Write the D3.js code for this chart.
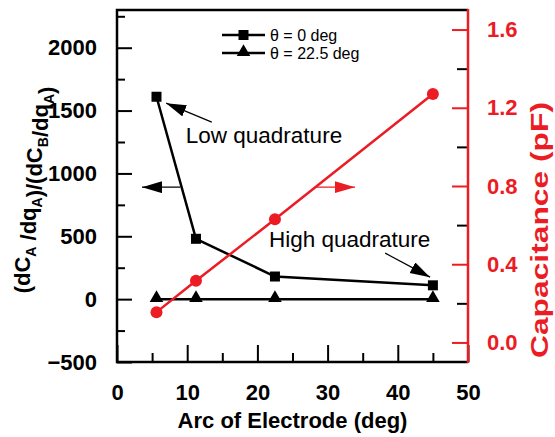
<!DOCTYPE html>
<html>
<head>
<meta charset="utf-8">
<script src="https://cdn.jsdelivr.net/npm/d3@7"></script>
<style>
  body { margin: 0; background: #fff; }
  svg { font-family: "Liberation Sans", Arial, sans-serif; }
  .tick text { font-weight: bold; font-size: 22px; }
</style>
</head>
<body>
<svg id="chart" width="555" height="437"></svg>
<script>
// Dual axis chart: ratio (left, black) and capacitance (right, red) vs electrode arc
var arcDeg = [5.625, 11.25, 22.5, 45];
var ratioTheta0 = [1610, 480, 180, 110];
var ratioTheta225 = [0, 0, 0, 0];
var capacitance = [0.155, 0.315, 0.63, 1.27];

var xTicks = [0, 10, 20, 30, 40, 50];
var xMinor = [5, 15, 25, 35, 45];
var leftTicks = [-500, 0, 500, 1000, 1500, 2000];
var leftMinor = [-250, 250, 750, 1250, 1750, 2250];
var rightTicks = [0.0, 0.4, 0.8, 1.2, 1.6];
var rightMinor = [0.2, 0.6, 1.0, 1.4];

var legendLabels = ["\u03b8 = 0 deg", "\u03b8 = 22.5 deg"];

var RED = "#ec1c24";
var margin = {top: 10, right: 87, bottom: 75, left: 117};
var width = 555 - margin.left - margin.right;
var height = 437 - margin.top - margin.bottom;

var svg = d3.select("#chart")
  .append("g")
    .attr("transform", "translate(" + margin.left + "," + margin.top + ")");

var x = d3.scaleLinear().domain([0, 50]).range([0, width]);
var yL = d3.scaleLinear().domain([-500, 2300]).range([height, 0]);
var yR = d3.scaleLinear().domain([-0.1, 1.7]).range([height, 0]);

// arrowheads
var defs = svg.append("defs");
[["headBlack", "#000"], ["headRed", RED]].forEach(function(m) {
  defs.append("marker")
      .attr("id", m[0])
      .attr("markerUnits", "userSpaceOnUse")
      .attr("markerWidth", 22)
      .attr("markerHeight", 14)
      .attr("refX", 20)
      .attr("refY", 6)
      .attr("orient", "auto")
    .append("path")
      .attr("d", "M0,0L20,6L0,12Z")
      .attr("fill", m[1]);
});

// minor ticks
svg.append("g")
    .call(d3.axisLeft(yL).tickValues(leftMinor).tickSize(-8).tickFormat(""))
    .call(function(g) { g.select(".domain").remove(); });
svg.append("g")
    .attr("transform", "translate(0," + height + ")")
    .call(d3.axisBottom(x).tickValues(xMinor).tickSize(-9).tickFormat(""))
    .call(function(g) { g.select(".domain").remove(); });
svg.append("g")
    .attr("transform", "translate(" + width + ",0)")
    .call(d3.axisRight(yR).tickValues(rightMinor).tickSize(-11).tickFormat(""))
    .call(function(g) { g.select(".domain").remove(); });

// major ticks + labels
var leftAxis = svg.append("g")
    .call(d3.axisLeft(yL).tickValues(leftTicks).tickSize(-15).tickPadding(20).tickFormat(d3.format("d")));
var bottomAxis = svg.append("g")
    .attr("transform", "translate(0," + height + ")")
    .call(d3.axisBottom(x).tickValues(xTicks).tickSize(-17).tickPadding(22).tickFormat(d3.format("d")));
var rightAxis = svg.append("g")
    .attr("transform", "translate(" + width + ",0)")
    .call(d3.axisRight(yR).tickValues(rightTicks).tickSize(-16).tickPadding(19).tickFormat(d3.format(".1f")));

[leftAxis, bottomAxis, rightAxis].forEach(function(g) { g.select(".domain").remove(); });
svg.selectAll(".tick line").attr("stroke-width", 2);
leftAxis.selectAll("text").attr("fill", "#000");
bottomAxis.selectAll("text").attr("fill", "#000");
rightAxis.selectAll("line").attr("stroke", RED);
rightAxis.selectAll("text").attr("fill", RED);

// frame
svg.append("path")
    .attr("d", "M" + width + ",0H0V" + height + "H" + width)
    .attr("fill", "none")
    .attr("stroke", "#000")
    .attr("stroke-width", 2.5);
svg.append("line")
    .attr("x1", width).attr("x2", width)
    .attr("y1", -1).attr("y2", height + 1)
    .attr("stroke", RED)
    .attr("stroke-width", 2.5);

// series
var ratioLine = d3.line()
    .x(function(d) { return x(d[0]); })
    .y(function(d) { return yL(d[1]); });
var capLine = d3.line()
    .x(function(d) { return x(d[0]); })
    .y(function(d) { return yR(d[1]); });

var s0 = d3.zip(arcDeg, ratioTheta0);
var s225 = d3.zip(arcDeg, ratioTheta225);
var sCap = d3.zip(arcDeg, capacitance);

svg.append("path").datum(s225)
    .attr("d", ratioLine).attr("fill", "none").attr("stroke", "#000").attr("stroke-width", 2.5);
svg.append("path").datum(s0)
    .attr("d", ratioLine).attr("fill", "none").attr("stroke", "#000").attr("stroke-width", 2.5);

var tri = d3.symbol().type(d3.symbolTriangle).size(80);
svg.append("g").selectAll("path")
    .data(s225)
    .enter().append("path")
      .attr("d", tri)
      .attr("transform", function(d) { return "translate(" + x(d[0]) + "," + (yL(d[1]) - 1) + ")"; })
      .attr("fill", "#000");
svg.append("g").selectAll("rect")
    .data(s0)
    .enter().append("rect")
      .attr("x", function(d) { return x(d[0]) - 5; })
      .attr("y", function(d) { return yL(d[1]) - 5; })
      .attr("width", 10).attr("height", 10)
      .attr("fill", "#000");

svg.append("path").datum(sCap)
    .attr("d", capLine).attr("fill", "none").attr("stroke", RED).attr("stroke-width", 2.5);
svg.append("g").selectAll("circle")
    .data(sCap)
    .enter().append("circle")
      .attr("cx", function(d) { return x(d[0]); })
      .attr("cy", function(d) { return yR(d[1]); })
      .attr("r", 6)
      .attr("fill", RED);

// legend
var legend = svg.append("g")
    .attr("transform", "translate(105,25)");
legendLabels.forEach(function(label, i) {
  var row = legend.append("g").attr("transform", "translate(0," + (i * 18) + ")");
  row.append("line")
      .attr("x1", 0).attr("x2", 43)
      .attr("stroke", "#000").attr("stroke-width", 2.5);
  if (i === 0) {
    row.append("rect").attr("x", 16.5).attr("y", -5).attr("width", 10).attr("height", 10).attr("fill", "#000");
  } else {
    row.append("path").attr("d", tri).attr("transform", "translate(21.5,-1)").attr("fill", "#000");
  }
  row.append("text")
      .attr("x", 48)
      .attr("dy", "0.35em")
      .attr("font-size", 16)
      .text(label);
});

// annotations (data coordinates on the left scale)
svg.append("text")
    .attr("x", x(9.8)).attr("y", yL(1240))
    .attr("font-size", 22.5)
    .text("Low quadrature");
svg.append("text")
    .attr("x", x(21.65)).attr("y", yL(414))
    .attr("font-size", 22.5)
    .text("High quadrature");

var arrows = [
  {x1: 13.5, y1: 1408, x2: 7.0, y2: 1559, color: "#000", head: "headBlack"},
  {x1: 38.2, y1: 366, x2: 44.6, y2: 175, color: "#000", head: "headBlack"},
  {x1: 9.0, y1: 891, x2: 3.56, y2: 891, color: "#000", head: "headBlack"},
  {x1: 28.2, y1: 891, x2: 33.9, y2: 891, color: RED, head: "headRed"}
];
svg.append("g").selectAll("line")
    .data(arrows)
    .enter().append("line")
      .attr("x1", function(d) { return x(d.x1); })
      .attr("y1", function(d) { return yL(d.y1); })
      .attr("x2", function(d) { return x(d.x2); })
      .attr("y2", function(d) { return yL(d.y2); })
      .attr("stroke", function(d) { return d.color; })
      .attr("stroke-width", 1.2)
      .attr("marker-end", function(d) { return "url(#" + d.head + ")"; });

// axis titles
svg.append("text")
    .attr("x", width / 2)
    .attr("y", height + 66)
    .attr("text-anchor", "middle")
    .attr("font-weight", "bold")
    .attr("font-size", 22)
    .text("Arc of Electrode (deg)");

var yTitle = svg.append("text")
    .attr("transform", "translate(" + (-87) + "," + (height / 2 + 4) + ") rotate(-90)")
    .attr("text-anchor", "middle")
    .attr("font-weight", "bold")
    .attr("font-size", 22);
[["(dC", 0], ["A", 1], [" /dq", 0], ["A", 1], [")/(dC", 0], ["B", 1], ["/dq", 0], ["A", 1], [")", 0]]
  .forEach(function(p) {
    yTitle.append("tspan")
        .attr("font-size", p[1] ? 14 : 22)
        .attr("dy", p[1] ? 6 : null)
        .text(p[0]);
    if (p[1]) yTitle.append("tspan").attr("dy", -6).text("");
  });

svg.append("text")
    .attr("transform", "translate(" + (width + 80) + "," + (height / 2 + 44) + ") rotate(-90)")
    .attr("text-anchor", "middle")
    .attr("font-weight", "bold")
    .attr("font-size", 23)
    .attr("textLength", 256)
    .attr("lengthAdjust", "spacingAndGlyphs")
    .attr("fill", RED)
    .text("Capacitance (pF)");
</script>
</body>
</html>
